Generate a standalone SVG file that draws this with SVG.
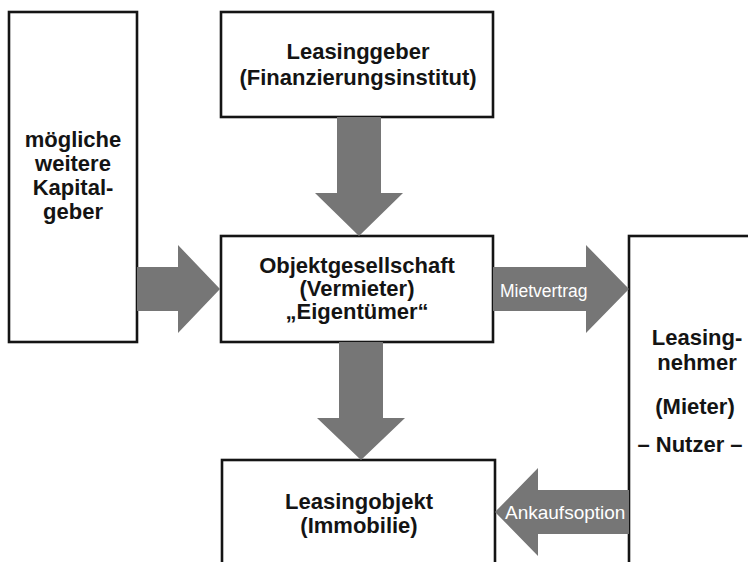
<svg xmlns="http://www.w3.org/2000/svg" width="748" height="562" viewBox="0 0 748 562">
<style>
.box{fill:#fff;stroke:#141414;stroke-width:2.6}
.arr{fill:#767676;stroke:none}
.t{font-family:"Liberation Sans",Arial,sans-serif;font-weight:bold;font-size:22px;fill:#141414;text-anchor:middle}
.lbl{font-family:"Liberation Sans",Arial,sans-serif;fill:#fff}
</style>
<rect width="748" height="562" fill="#fff"/>
<g id="kapitalgeber">
<rect class="box" x="9" y="12" width="128" height="330"/>
<text class="t" x="73" y="147">mögliche</text>
<text class="t" x="73" y="171">weitere</text>
<text class="t" x="73" y="195">Kapital-</text>
<text class="t" x="73" y="219">geber</text>
</g>
<g id="leasinggeber">
<rect class="box" x="221" y="12" width="272" height="105"/>
<text class="t" x="358" y="59">Leasinggeber</text>
<text class="t" x="358" y="85">(Finanzierungsinstitut)</text>
</g>
<g id="objektgesellschaft">
<rect class="box" x="221" y="236" width="272" height="106"/>
<text class="t" x="357" y="273">Objektgesellschaft</text>
<text class="t" x="357" y="296">(Vermieter)</text>
<text class="t" x="357" y="319">„Eigentümer“</text>
</g>
<g id="leasingobjekt">
<rect class="box" x="222" y="460" width="273" height="140"/>
<text class="t" x="359" y="509">Leasingobjekt</text>
<text class="t" x="359" y="533">(Immobilie)</text>
</g>
<g id="leasingnehmer">
<rect class="box" x="629" y="236" width="200" height="400"/>
<text class="t" x="697" y="345">Leasing-</text>
<text class="t" x="697" y="370">nehmer</text>
<text class="t" x="695" y="414">(Mieter)</text>
<text class="t" x="690" y="452">– Nutzer –</text>
</g>
<g id="connectors">
<polygon class="arr" points="337,117 381,117 381,193 403,193 359,236 315,193 337,193"/>
<polygon class="arr" points="339,342 383,342 383,418 405,418 361,460 317,418 339,418"/>
<polygon class="arr" points="137,267 178,267 178,245 220,289 178,333 178,311 137,311"/>
<polygon class="arr" points="493,267 586,267 586,245 629,289 586,333 586,311 493,311"/>
<polygon class="arr" points="629,490 538,490 538,468 495,512 538,556 538,534 629,534"/>
<text class="lbl" x="500" y="297" font-size="17.5">Mietvertrag</text>
<text class="lbl" x="505" y="519" font-size="19">Ankaufsoption</text>
</g>
</svg>
